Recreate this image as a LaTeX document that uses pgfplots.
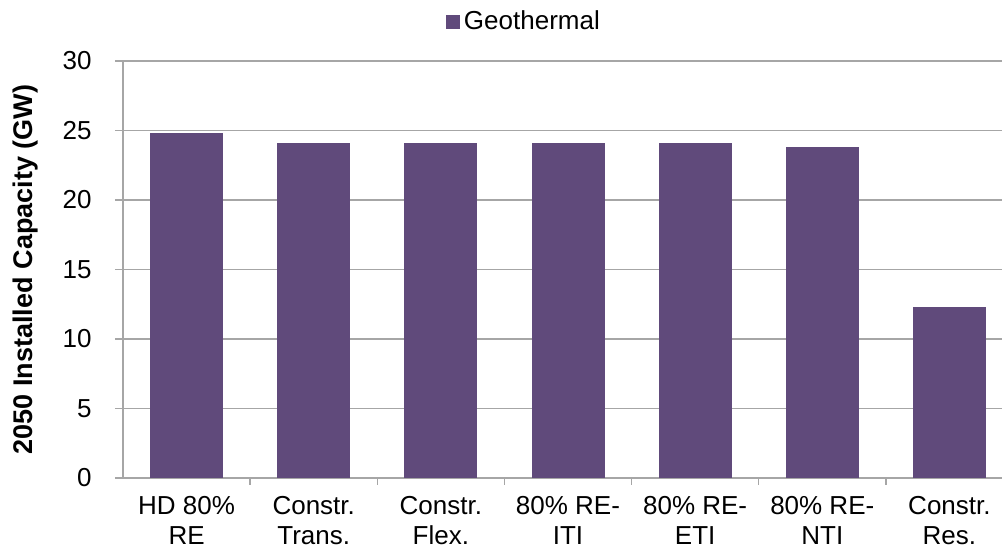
\documentclass[border=0pt]{standalone}
\usepackage{fontspec}
\setmainfont{Liberation Sans}
\usepackage{pgfplots}
\pgfplotsset{compat=1.18}
\definecolor{barpurple}{HTML}{604A7B}
\definecolor{gridgray}{HTML}{A6A6A6}
\begin{document}
\begin{tikzpicture}[font=\fontsize{13pt}{15pt}\selectfont]
\useasboundingbox (0,0) rectangle (501pt,275pt);
\begin{axis}[
  at={(61.5pt,36pt)}, anchor=south west,
  scale only axis,
  width=445pt, height=208.5pt,
  xmin=-0.5, xmax=6.5,
  ymin=0, ymax=30,
  ytick={0,5,...,30},
  xtick={0,...,6},
  xticklabels={{HD 80\%\\RE},{Constr.\\Trans.},{Constr.\\Flex.},{80\% RE-\\ITI},{80\% RE-\\ETI},{80\% RE-\\NTI},{Constr.\\Res.}},
  xticklabel style={align=center, inner sep=0pt, anchor=north, yshift=-5pt, font=\fontsize{13pt}{15pt}\selectfont},
  yticklabel style={inner sep=0pt, anchor=east, xshift=-11.5pt},
  /pgf/number format/assume math mode=true,
  axis x line*=bottom,
  axis y line*=left,
  axis line style={gridgray, line width=0.75pt},
  ymajorgrids,
  major grid style={gridgray, line width=0.75pt},
  y axis line style={-}, x axis line style={-},
  ytick style={draw=gridgray, line width=0.75pt},
  xtick style={draw=none},
  tick align=outside,
  major tick length=4pt,
  extra x ticks={0.5,1.5,2.5,3.5,4.5,5.5},
  extra x tick labels={},
  extra x tick style={xtick style={draw=gridgray, line width=0.75pt}, major tick length=3.5pt, grid=none},
  ybar, bar width=36pt,
  ylabel={\fontsize{13.5pt}{15pt}\selectfont\bfseries 2050 Installed Capacity (GW)},
  ylabel style={at={(axis description cs:-0.110,0.5)}, anchor=center, rotate=0},
  legend style={at={(axis description cs:0.4517,1.0935)}, anchor=center, draw=none, fill=none, inner sep=0pt, font=\fontsize{13pt}{15pt}\selectfont},
  legend image code/.code={\fill[barpurple] (0pt,-3.25pt) rectangle (6.5pt,3.25pt);},
]
\addplot[fill=barpurple, draw=barpurple] coordinates {(0,24.8) (1,24.1) (2,24.1) (3,24.1) (4,24.1) (5,23.8) (6,12.3)};
\addlegendentry{Geothermal}
\end{axis}
\end{tikzpicture}
\end{document}
